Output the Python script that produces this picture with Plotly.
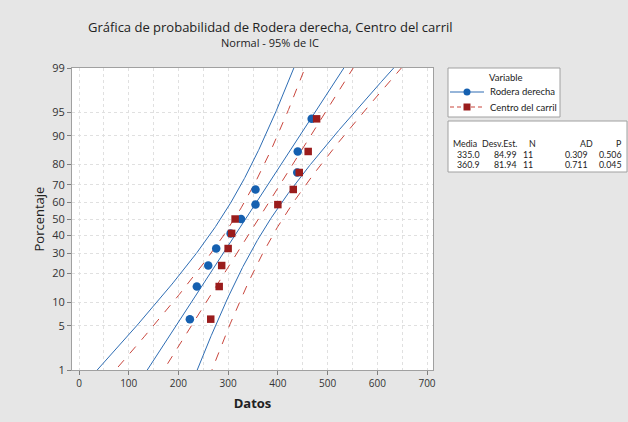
import numpy as np
import plotly.graph_objects as go
from statistics import NormalDist

# ---------------- data ----------------
percent = [6.14, 14.91, 23.68, 32.46, 41.23, 50.0, 58.77, 67.54, 76.32, 85.09, 93.86]
rodera_derecha = [223, 237, 260, 276, 305, 326, 355, 355, 439, 440, 468]
centro_carril = [265, 282, 287, 300, 307, 314, 400, 431, 443, 461, 478]

series_names = ["Rodera derecha", "Centro del carril"]
media = [335.0, 360.9]
desv_est = [84.99, 81.94]
n_obs = [11, 11]
ad_vals = [0.309, 0.711]
p_vals = [0.506, 0.045]

y_ticks = [1, 5, 10, 20, 30, 40, 50, 60, 70, 80, 90, 95, 99]
x_ticks = [0, 100, 200, 300, 400, 500, 600, 700]

# ---------------- helpers ----------------
ND = NormalDist()
def zq(p):
    return ND.inv_cdf(p / 100.0)

W, H = 628, 422
PL, PR, PT, PB = 72, 433, 68, 370  # plot area in pixels
def px(x):
    return (x - PL) / (PR - PL)
def py(y):
    return (PB - y) / (PB - PT)

FONT = "Open Sans"
SMALL = "Lato"
blue_line = "#2E6DB4"
blue_mk = "#1560B0"
red_line = "#C9463D"
red_mk = "#9A1C1C"
GRID = "#E0E0E0"

fig = go.Figure()

zz = np.linspace(-2.7, 2.7, 300)
colors = [(blue_line, "solid"), (red_line, "dash")]
for i, (m, s, n) in enumerate(zip(media, desv_est, n_obs)):
    col, dash = colors[i]
    fit = m + s * zz
    hw = 1.96 * s * np.sqrt((1 + zz**2 * n / (2 * (n - 1))) / n)
    for xs in (fit - hw, fit, fit + hw):
        fig.add_trace(go.Scatter(x=xs, y=zz, mode="lines",
                                 line=dict(color=col, width=1, dash=dash),
                                 showlegend=False, hoverinfo="skip"))

zp = [zq(p) for p in percent]
fig.add_trace(go.Scatter(x=rodera_derecha, y=zp, mode="markers", name=series_names[0],
                         marker=dict(symbol="circle", size=8.5, color=blue_mk),
                         showlegend=False))
fig.add_trace(go.Scatter(x=centro_carril, y=zp, mode="markers", name=series_names[1],
                         marker=dict(symbol="square", size=7.5, color=red_mk),
                         showlegend=False))

xmin = (PL - 79) / (348 / 700)
xmax = (PR - 79) / (348 / 700)

fig.update_layout(
    width=W, height=H,
    margin=dict(l=PL, r=W - PR, t=PT, b=H - PB, pad=0),
    paper_bgcolor="#E6E6E6",
    plot_bgcolor="white",
    font=dict(family=FONT, color="#333333"),
    showlegend=False,
    xaxis=dict(range=[xmin, xmax], tickvals=x_ticks, ticktext=[str(v) for v in x_ticks],
               showgrid=True, gridcolor=GRID, griddash="3px,3px", gridwidth=1,
               minor=dict(dtick=50, tick0=0, showgrid=True, gridcolor=GRID, griddash="3px,3px"),
               zeroline=False, showline=True, linecolor="#A0A0A0", mirror=True,
               ticks="outside", ticklen=4, tickcolor="#808080",
               tickfont=dict(size=10, color="#333333"),
               title=dict(text="Datos", font=dict(size=13, color="#222222", weight="bold"), standoff=9)),
    yaxis=dict(range=[zq(1), zq(99)], tickvals=[zq(v) for v in y_ticks],
               ticktext=[str(v) for v in y_ticks],
               showgrid=True, gridcolor=GRID, griddash="3px,3px", gridwidth=1,
               zeroline=False, showline=True, linecolor="#A0A0A0", mirror=True,
               ticks="outside", ticklen=4, tickcolor="#808080",
               tickfont=dict(size=11, color="#333333"),
               title=dict(text="Porcentaje", font=dict(size=13, color="#222222"), standoff=4)),
)

# titles
fig.add_annotation(x=px(270), y=py(27), xref="paper", yref="paper", showarrow=False,
                   text="Gráfica de probabilidad de Rodera derecha, Centro del carril",
                   font=dict(size=13, color="#222222", family=FONT), xanchor="center", yanchor="middle")
fig.add_annotation(x=px(270), y=py(43), xref="paper", yref="paper", showarrow=False,
                   text="Normal - 95% de IC",
                   font=dict(size=11, color="#222222", family=FONT), xanchor="center", yanchor="middle")

# legend box (manual)
fig.add_shape(type="rect", xref="paper", yref="paper", x0=px(448), x1=px(560), y0=py(117), y1=py(68),
              fillcolor="white", line=dict(color="#A0A0A0", width=1))
fig.add_annotation(x=px(506), y=py(78), xref="paper", yref="paper", showarrow=False, text="Variable",
                   font=dict(size=9.5, color="#222222", family=SMALL), xanchor="center", yanchor="middle")
leg_y = [92, 107]
for i in range(2):
    col, dash = colors[i]
    fig.add_shape(type="line", xref="paper", yref="paper", x0=px(450), x1=px(484),
                  y0=py(leg_y[i]), y1=py(leg_y[i]),
                  line=dict(color=col, width=1.2, dash=dash if dash == "solid" else "4px,3px"))
    fig.add_annotation(x=px(488), y=py(leg_y[i]), xref="paper", yref="paper", showarrow=False,
                       text=series_names[i], font=dict(size=9.5, color="#222222", family=SMALL),
                       xanchor="left", yanchor="middle")
# legend markers
r = 3.5
fig.add_shape(type="circle", xref="paper", yref="paper", x0=px(467 - r), x1=px(467 + r),
              y0=py(leg_y[0] + r), y1=py(leg_y[0] - r), fillcolor=blue_mk, line=dict(color=blue_mk, width=0))
fig.add_shape(type="rect", xref="paper", yref="paper", x0=px(467 - 3.5), x1=px(467 + 3.5),
              y0=py(leg_y[1] + 3.5), y1=py(leg_y[1] - 3.5), fillcolor=red_mk, line=dict(color=red_mk, width=0))

# stats table
fig.add_shape(type="rect", xref="paper", yref="paper", x0=px(448), x1=px(627), y0=py(172), y1=py(121),
              fillcolor="white", line=dict(color="#A0A0A0", width=1))
headers = ["Media", "Desv.Est.", "N", "AD", "P"]
col_pos = [451, 519, 538, 595, 624]
col_anchor = ["left", "right", "right", "right", "right"]
rows_y = [143, 154, 164.5]
TS = 8.8
for h, xr, a in zip(headers, col_pos, col_anchor):
    fig.add_annotation(x=px(xr), y=py(rows_y[0]), xref="paper", yref="paper", showarrow=False, text=h,
                       font=dict(size=TS, color="#222222", family=SMALL), xanchor=a, yanchor="middle")
for i in range(2):
    vals = [f"{media[i]:.1f}", f"{desv_est[i]:.2f}", f"{n_obs[i]}", f"{ad_vals[i]:.3f}", f"{p_vals[i]:.3f}"]
    offs = [4, -1, -3, -6, -1]
    for v, xr, o, a in zip(vals, col_pos, offs, col_anchor):
        fig.add_annotation(x=px(xr + o), y=py(rows_y[i + 1]), xref="paper", yref="paper", showarrow=False,
                           text=v, font=dict(size=TS, color="#222222", family=SMALL),
                           xanchor=a, yanchor="middle")

fig.write_html(
    "out.html",
    config={"displayModeBar": False},
    post_script="document.body.style.margin='0';document.body.style.padding='0';"
                "document.body.style.overflow='hidden';document.body.style.background='#E6E6E6';",
)
